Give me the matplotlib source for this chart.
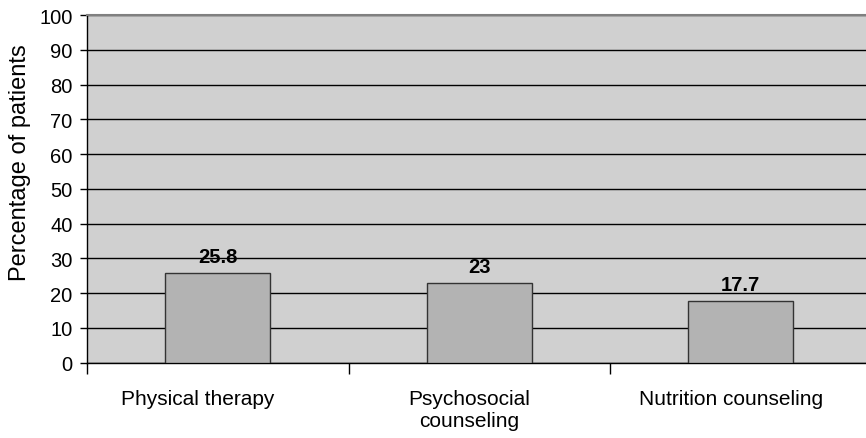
import matplotlib
matplotlib.use("Agg")
import matplotlib.pyplot as plt
from matplotlib.transforms import ScaledTranslation

categories = ["Physical therapy", "Psychosocial\ncounseling", "Nutrition counseling"]
values = [25.8, 23, 17.7]
value_labels = ["25.8", "23", "17.7"]
y_ticks = [0, 10, 20, 30, 40, 50, 60, 70, 80, 90, 100]

plt.rcParams["font.family"] = ["Liberation Sans", "DejaVu Sans"]

fig = plt.figure(figsize=(8.66, 4.39), dpi=100)
ax = fig.add_axes([87 / 866, 75.3 / 439, 784.5 / 866, 347.7 / 439])
ax.set_facecolor("#d0d0d0")

x = list(range(len(categories)))
ax.bar(x, values, width=0.4, color="#b3b3b3", edgecolor="#333333", linewidth=1.0, zorder=3)
for xi, v, lab in zip(x, values, value_labels):
    ax.annotate(lab, (xi, v), xytext=(0, 5), textcoords="offset points",
                ha="center", va="bottom", fontsize=14.5, fontweight="bold", zorder=4)

ax.set_xlim(-0.5, len(categories) - 0.5)
ax.set_ylim(0, 100)
ax.set_yticks(y_ticks)
ax.yaxis.grid(True, color="black", linewidth=1.0, zorder=1)
ax.set_axisbelow(True)

# category labels, set slightly left of the bar centres
ax.set_xticks(x)
ax.set_xticklabels([])
label_shift_px = [-20, -10, -10]
for xi, name, dx in zip(x, categories, label_shift_px):
    offset = ScaledTranslation(dx / 100, -26 / 100, fig.dpi_scale_trans)
    ax.text(xi, 0, name, transform=ax.get_xaxis_transform() + offset,
            ha="center", va="top", fontsize=15, linespacing=1.25)

ax.set_xticks([i + 0.5 for i in range(-1, len(categories))], minor=True)
ax.tick_params(axis="x", which="major", length=0)
ax.tick_params(axis="x", which="minor", length=8, width=1, direction="out", color="black")
ax.tick_params(axis="y", length=5, width=1, direction="out", labelsize=14.5, pad=5.5)

ax.spines["right"].set_visible(False)
ax.spines["top"].set_color("#808080")
ax.spines["top"].set_linewidth(1.5)
ax.spines["left"].set_color("black")
ax.spines["bottom"].set_color("black")
ax.spines["left"].set_linewidth(1.0)
ax.spines["bottom"].set_linewidth(1.0)

ax.set_ylabel("Percentage of patients", fontsize=17, va="center")
ax.yaxis.set_label_coords(-0.0848, 0.579)

fig.savefig("out.png", dpi=100)
